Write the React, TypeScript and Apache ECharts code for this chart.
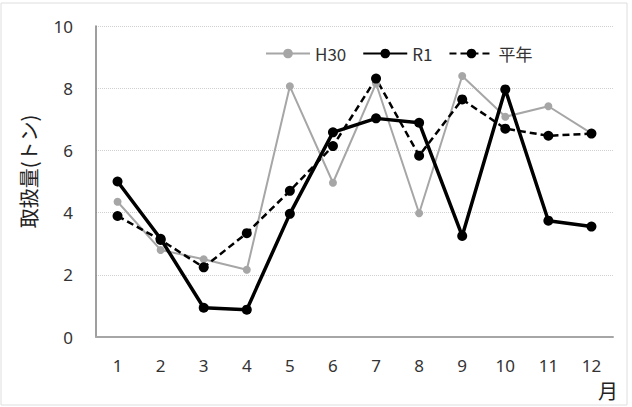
import React, { useEffect, useRef } from "react";
import * as echarts from "echarts";

// 月別取扱量（トン）
const months = ["1", "2", "3", "4", "5", "6", "7", "8", "9", "10", "11", "12"];
const h30 = [4.35, 2.8, 2.5, 2.16, 8.06, 4.96, 8.15, 3.98, 8.39, 7.08, 7.42, 6.55];
const r1 = [5.0, 3.16, 0.94, 0.88, 3.96, 6.58, 7.03, 6.89, 3.25, 7.96, 3.74, 3.55];
const heinen = [3.89, 3.12, 2.24, 3.34, 4.7, 6.14, 8.31, 5.83, 7.64, 6.7, 6.47, 6.54];
const seriesNames = ["H30", "R1", "平年"];
const yAxisTitle = "取扱量(トン)";
const xAxisTitle = "月";

const FONT = '"Noto Sans", "Noto Sans CJK JP", sans-serif';
const JP_FONT = '"Noto Sans CJK JP", "Noto Sans", sans-serif';

export default function App() {
  const ref = useRef<HTMLDivElement>(null);

  useEffect(() => {
    if (!ref.current) return;
    const chart = echarts.init(ref.current, undefined, { renderer: "svg" });
    chart.setOption({
      animation: false,
      backgroundColor: "#ffffff",
      grid: { left: 96, right: 19, top: 26, bottom: 70 },
      legend: {
        data: seriesNames,
        left: 260,
        top: 40,
        itemWidth: 44,
        itemHeight: 12,
        itemGap: 16,
        textStyle: { fontFamily: JP_FONT, fontSize: 17, color: "#333333" },
      },
      xAxis: {
        type: "category",
        data: months,
        boundaryGap: true,
        axisLine: { lineStyle: { color: "#a6a6a6", width: 2 } },
        axisTick: { show: false },
        axisLabel: {
          margin: 20,
          fontFamily: FONT,
          fontSize: 17,
          color: "#333333",
        },
        splitLine: { show: false },
      },
      yAxis: {
        type: "value",
        min: 0,
        max: 10,
        interval: 2,
        name: yAxisTitle,
        nameLocation: "middle",
        nameRotate: 90,
        nameGap: 58,
        nameTextStyle: { fontFamily: JP_FONT, fontSize: 20, color: "#222222", padding: [0, 0, 0, 20] },
        axisLine: { show: true, lineStyle: { color: "#7f7f7f", width: 1.5 } },
        axisTick: { show: false },
        axisLabel: {
          margin: 23,
          fontFamily: FONT,
          fontSize: 17,
          color: "#333333",
        },
        splitLine: { lineStyle: { color: "#d0d0d0", type: "dotted", width: 1 } },
      },
      graphic: [
        {
          type: "rect",
          shape: { x: 1, y: 3, width: 626, height: 402 },
          style: { fill: "none", stroke: "#dedede", lineWidth: 1 },
          silent: true,
        },
        {
          type: "text",
          left: 598,
          top: 380,
          style: { text: xAxisTitle, fontFamily: JP_FONT, fontSize: 20, fill: "#222222" },
        },
      ],
      series: [
        {
          name: seriesNames[0],
          type: "line",
          data: h30,
          symbol: "circle",
          symbolSize: 8,
          itemStyle: { color: "#a6a6a6" },
          lineStyle: { color: "#a6a6a6", width: 2 },
        },
        {
          name: seriesNames[1],
          type: "line",
          data: r1,
          symbol: "circle",
          symbolSize: 10,
          itemStyle: { color: "#000000" },
          lineStyle: { color: "#000000", width: 3.5 },
        },
        {
          name: seriesNames[2],
          type: "line",
          data: heinen,
          symbol: "circle",
          symbolSize: 10,
          itemStyle: { color: "#000000" },
          lineStyle: { color: "#000000", width: 2.5, type: [7, 4] },
        },
      ],
    });
    return () => chart.dispose();
  }, []);

  return (
    <div
      ref={ref}
      style={{ position: "fixed", left: 0, top: 0, width: 632, height: 407 }}
    />
  );
}
